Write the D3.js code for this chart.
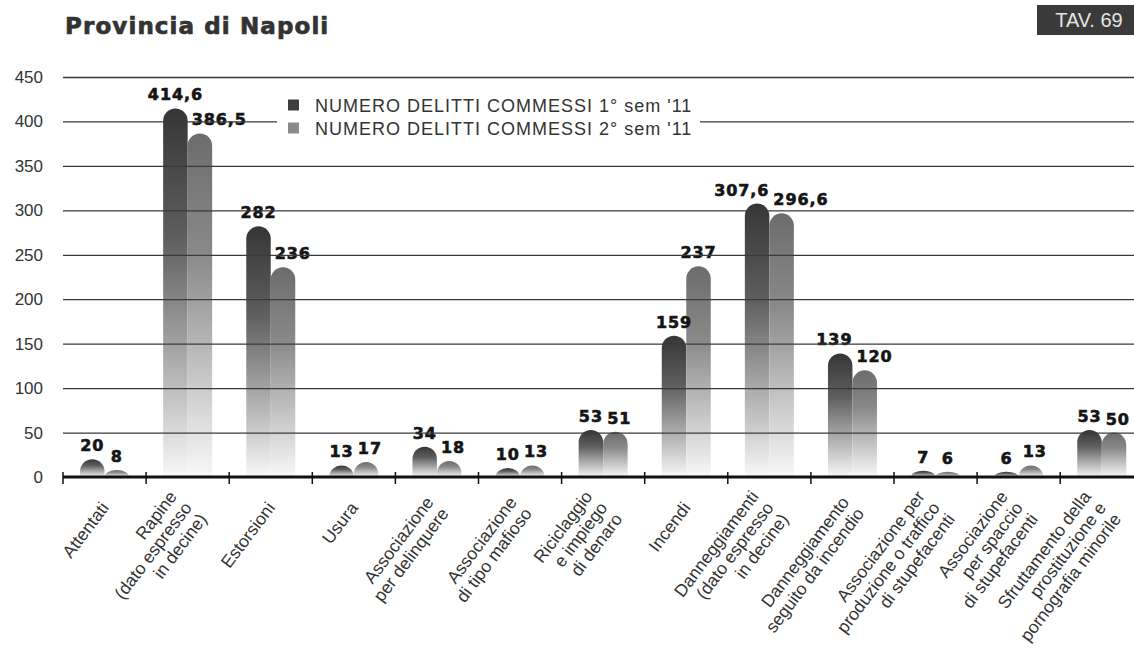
<!DOCTYPE html>
<html>
<head>
<meta charset="utf-8">
<script src="https://cdn.jsdelivr.net/npm/d3@7"></script>
<style>
  html, body { margin: 0; padding: 0; background: #ffffff; }
  svg { display: block; }
</style>
</head>
<body>
<svg id="chart" width="1134" height="652"></svg>
<script>
// ---------------- DATA ----------------
const title = "Provincia di Napoli";
const tableTag = "TAV. 69";
const categories = [
  ["Attentati"],
  ["Rapine", "(dato espresso", "in decine)"],
  ["Estorsioni"],
  ["Usura"],
  ["Associazione", "per delinquere"],
  ["Associazione", "di tipo mafioso"],
  ["Riciclaggio", "e impiego", "di denaro"],
  ["Incendi"],
  ["Danneggiamenti", "(dato espresso", "in decine)"],
  ["Danneggiamento", "seguito da incendio"],
  ["Associazione per", "produzione o traffico", "di stupefacenti"],
  ["Associazione", "per spaccio", "di stupefacenti"],
  ["Sfruttamento della", "prostituzione e", "pornografia minorile"]
];
const seriesNames = [
  "NUMERO DELITTI COMMESSI 1° sem '11",
  "NUMERO DELITTI COMMESSI 2° sem '11"
];
const sem1 = [20, 414.6, 282, 13, 34, 10, 53, 159, 307.6, 139, 7, 6, 53];
const sem2 = [8, 386.5, 236, 17, 18, 13, 51, 237, 296.6, 120, 6, 13, 50];
const yTicks = [0, 50, 100, 150, 200, 250, 300, 350, 400, 450];
const seriesColors = ["#363636", "#6c6c6c"];
const legendColors = ["#3e3e3e", "#8a8a8a"];

// ---------------- LAYOUT ----------------
const svg = d3.select("#chart");
const W = 1134, H = 652;
const plotLeft = 63, plotRight = 1134;
const y0px = 477, yTopPx = 77;
const bandW = 83.1;
const barW = 24.5;

const catKeys = categories.map((c, i) => "c" + i);
const x = d3.scaleBand().domain(catKeys).range([plotLeft, plotLeft + bandW * catKeys.length]).padding(0);
const xs = d3.scaleBand().domain([0, 1]).range([x.bandwidth() / 2 - barW, x.bandwidth() / 2 + barW]).padding(0);
const y = d3.scaleLinear().domain([0, 450]).range([y0px, yTopPx]);

svg.append("rect").attr("width", W).attr("height", H).attr("fill", "#ffffff");

// gradients
const defs = svg.append("defs");
seriesColors.forEach((col, s) => {
  const g = defs.append("linearGradient").attr("id", "grad" + s)
    .attr("x1", 0).attr("y1", 0).attr("x2", 0).attr("y2", 1);
  g.append("stop").attr("offset", "0%").attr("stop-color", col);
  g.append("stop").attr("offset", "35%").attr("stop-color", d3.interpolateRgb(col, "#ffffff")(0.2));
  g.append("stop").attr("offset", "80%").attr("stop-color", d3.interpolateRgb(col, "#ffffff")(0.72));
  g.append("stop").attr("offset", "100%").attr("stop-color", "#f8f8f8");
});

defs.append("clipPath").attr("id", "clipAll").append("rect").attr("x", 0).attr("y", 0).attr("width", W).attr("height", H);

// ---------------- TITLE ----------------
svg.append("text").attr("x", 65).attr("y", 34)
  .attr("font-family", "DejaVu Sans, sans-serif").attr("font-weight", "bold")
  .attr("font-size", 23).attr("letter-spacing", 1.1).attr("fill", "#333")
  .attr("stroke", "#333").attr("stroke-width", 0.7)
  .text(title);

svg.append("rect").attr("x", 1037).attr("y", 5).attr("width", 97).attr("height", 30).attr("fill", "#3a3a3a");
svg.append("text").attr("x", 1089).attr("y", 27).attr("text-anchor", "middle")
  .attr("font-family", "Liberation Sans, Arial, sans-serif").attr("font-size", 20)
  .attr("fill", "#e4e4e4").text(tableTag);

// ---------------- BARS ----------------
const data = catKeys.map((k, i) => ({ key: k, vals: [sem1[i], sem2[i]] }));
function barPath(x0, w, v) {
  const top = y(v), bot = y(0);
  const rr = Math.min(w / 2, bot - top);
  return `M${x0},${bot} L${x0},${top + rr} A${w / 2},${rr} 0 0 1 ${x0 + w},${top + rr} L${x0 + w},${bot} Z`;
}
const gBars = svg.append("g").attr("clip-path", "url(#clipAll)");
data.forEach(d => {
  d.vals.forEach((v, s) => {
    gBars.append("path")
      .attr("d", barPath(x(d.key) + xs(s), xs.bandwidth(), v))
      .attr("fill", `url(#grad${s})`);
  });
});

// ---------------- VALUE LABELS ----------------
const fmt = v => Number.isInteger(v) ? String(v) : String(v).replace(".", ",");
const gLab = svg.append("g").attr("font-family", "DejaVu Sans, sans-serif")
  .attr("font-weight", "bold").attr("font-size", 16).attr("letter-spacing", 0.9)
  .attr("fill", "#151515").attr("stroke", "#151515").attr("stroke-width", 0.6)
  .attr("text-anchor", "middle");
data.forEach(d => {
  const b1L = x(d.key) + xs(0), b1R = b1L + xs.bandwidth();
  const b2L = x(d.key) + xs(1), b2R = b2L + xs.bandwidth();
  const ly = d.vals.map(v => y(v) - 8);
  const t1 = gLab.append("text").attr("y", ly[0]).text(fmt(d.vals[0]));
  const t2 = gLab.append("text").attr("y", ly[1]).text(fmt(d.vals[1]));
  const w1 = t1.node().getComputedTextLength();
  const w2 = t2.node().getComputedTextLength();
  let cx1 = (b1L + b1R) / 2, cx2 = (b2L + b2R) / 2;
  const overlapV = Math.abs(ly[0] - ly[1]) < 17;
  if (overlapV) cx1 = Math.min(cx1, b1R - w1 / 2);
  if (overlapV || y(d.vals[0]) < ly[1]) cx2 = Math.max(cx2, b2L + 4 + w2 / 2);
  t1.attr("x", cx1);
  t2.attr("x", cx2);
});

// ---------------- GRID / Y AXIS ----------------
const yAxis = d3.axisLeft(y).tickValues(yTicks)
  .tickSize(-(plotRight - plotLeft)).tickPadding(20).tickFormat(d3.format("d"));
const gy = svg.append("g").attr("transform", `translate(${plotLeft},0)`).call(yAxis);
gy.select(".domain").remove();
gy.selectAll(".tick line").attr("stroke", "#3a3a3a").attr("stroke-width", 1.3)
  .filter(d => d === 0).remove();
gy.selectAll(".tick text").attr("font-family", "Liberation Sans, Arial, sans-serif")
  .attr("font-size", 17).attr("fill", "#333");

// ---------------- X AXIS ----------------
const gx = svg.append("g");
gx.append("line").attr("x1", plotLeft).attr("x2", plotRight).attr("y1", y(0)).attr("y2", y(0))
  .attr("stroke", "#111").attr("stroke-width", 3);
const boundaries = catKeys.map(k => x(k));
gx.selectAll("line.tk").data(boundaries).enter().append("line").attr("class", "tk")
  .attr("x1", d => d).attr("x2", d => d).attr("y1", y(0) - 5).attr("y2", y(0) + 7)
  .attr("stroke", "#111").attr("stroke-width", 1.5);

const lineH = 18.8;
const angle = -53;
categories.forEach((lines, i) => {
  const cx = x(catKeys[i]) + x.bandwidth() / 2 + 5;
  const t = svg.append("text")
    .attr("transform", `translate(${cx},508) rotate(${angle})`)
    .attr("text-anchor", "end")
    .attr("font-family", "Liberation Sans, Arial, sans-serif")
    .attr("font-size", 17.5).attr("fill", "#333");
  lines.forEach((ln, j) => {
    t.append("tspan").attr("x", 0).attr("y", (j - (lines.length - 1) / 2) * lineH).text(ln);
  });
});

// ---------------- LEGEND ----------------
const gLeg = svg.append("g");
gLeg.append("rect").attr("x", 277).attr("y", 90).attr("width", 423).attr("height", 52).attr("fill", "#ffffff");
seriesNames.forEach((name, s) => {
  const cy = 105 + s * 23;
  gLeg.append("rect").attr("x", 288).attr("y", cy - 5.5).attr("width", 11).attr("height", 11)
    .attr("fill", legendColors[s]);
  gLeg.append("text").attr("x", 315).attr("y", cy + 6.5)
    .attr("font-family", "Liberation Sans, Arial, sans-serif").attr("font-size", 18)
    .attr("letter-spacing", 1).attr("fill", "#333").text(name);
});
</script>
</body>
</html>
